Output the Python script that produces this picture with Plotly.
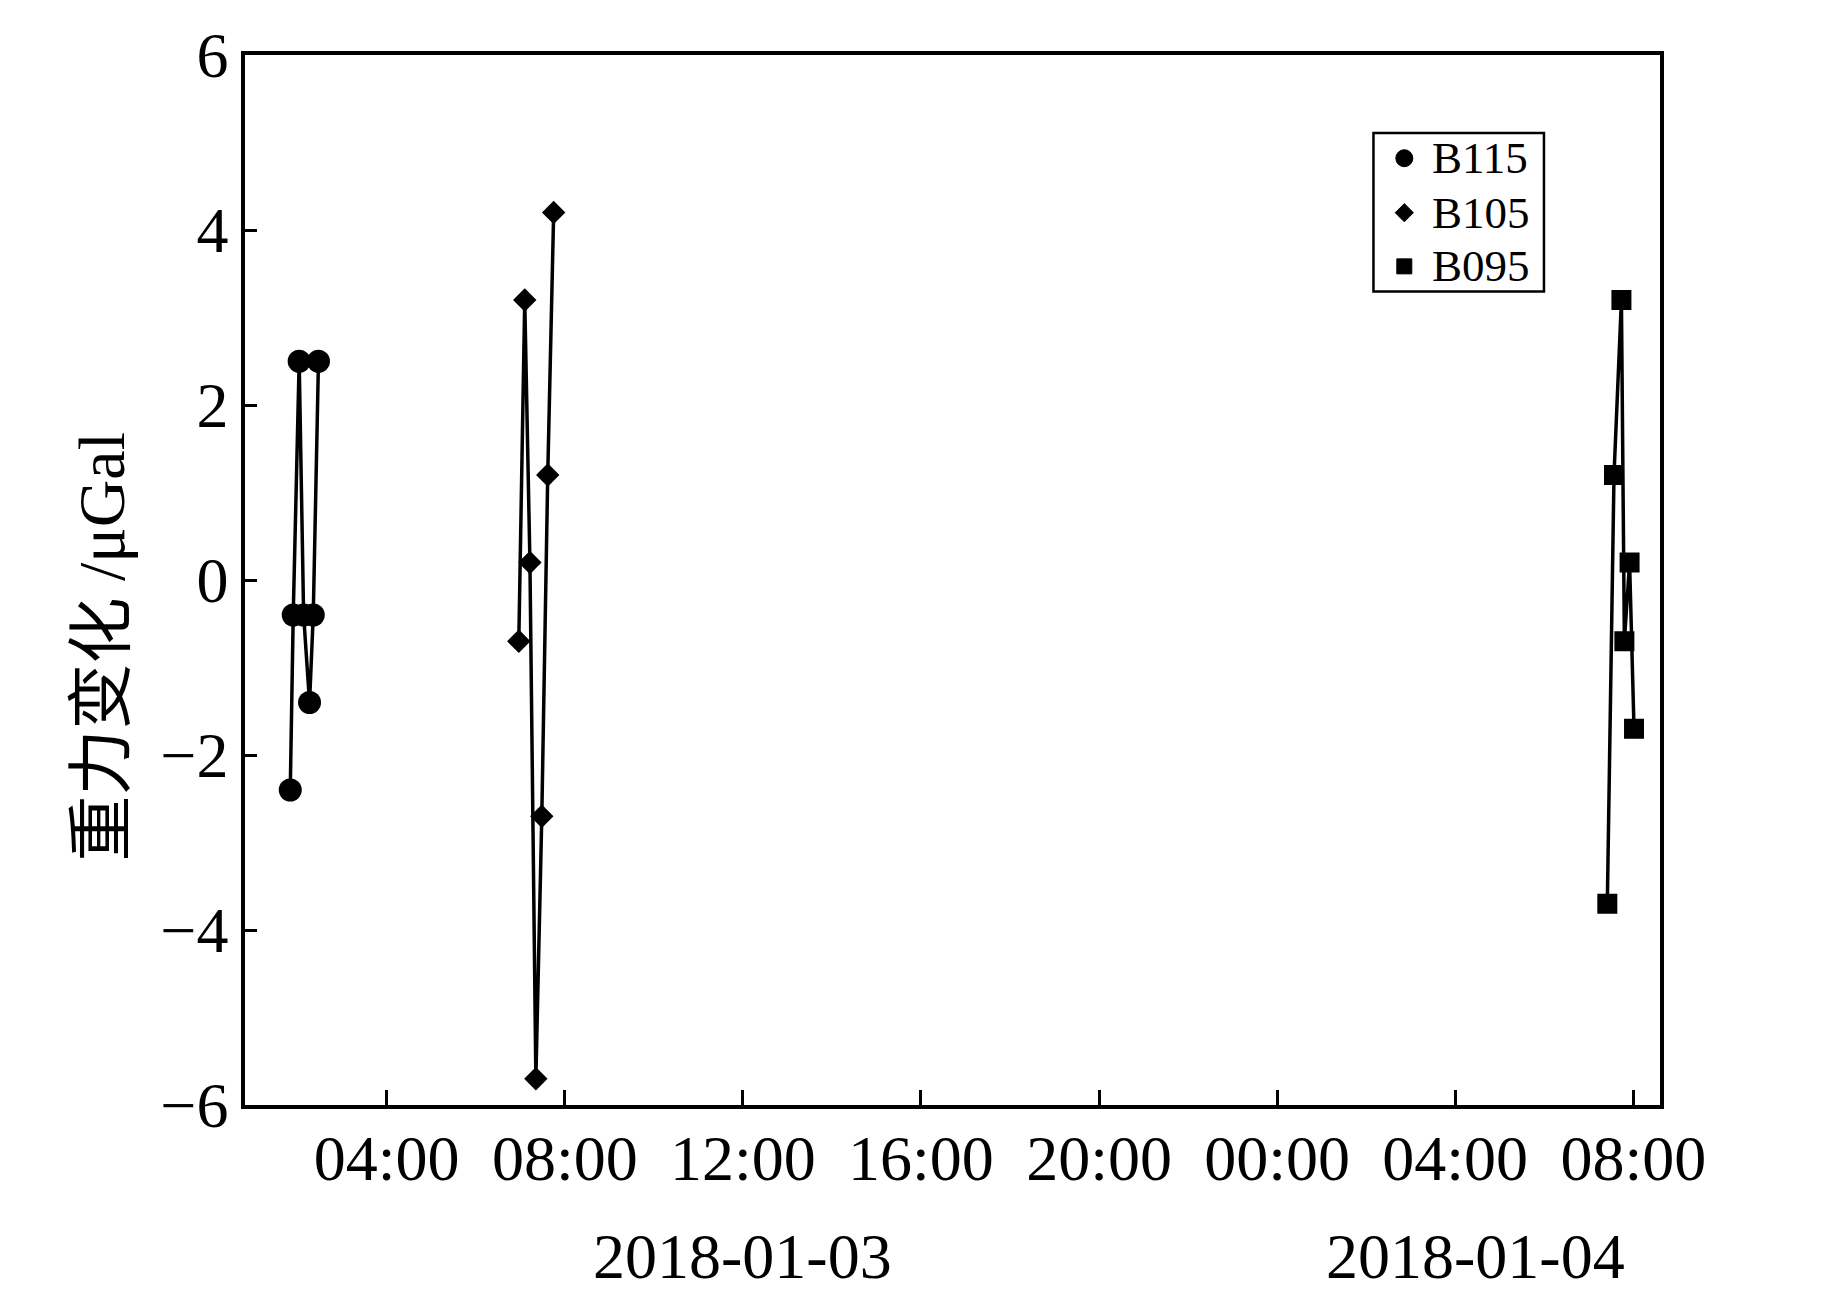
import plotly.graph_objects as go

# ---- data ----
b115_time = ["2018-01-03 01:50", "2018-01-03 01:54", "2018-01-03 02:02", "2018-01-03 02:08",
             "2018-01-03 02:16", "2018-01-03 02:21", "2018-01-03 02:28"]
b115_val = [-2.4, -0.4, 2.5, -0.4, -1.4, -0.4, 2.5]

b105_time = ["2018-01-03 06:58", "2018-01-03 07:06", "2018-01-03 07:13", "2018-01-03 07:21",
             "2018-01-03 07:29", "2018-01-03 07:37", "2018-01-03 07:45"]
b105_val = [-0.7, 3.2, 0.2, -5.7, -2.7, 1.2, 4.2]

b095_time = ["2018-01-04 07:25", "2018-01-04 07:34", "2018-01-04 07:44", "2018-01-04 07:48",
             "2018-01-04 07:55", "2018-01-04 08:01"]
b095_val = [-3.7, 1.2, 3.2, -0.7, 0.2, -1.7]

series_names = ["B115", "B105", "B095"]
series_symbols = ["circle", "diamond", "square"]
x_range = ["2018-01-03 00:49", "2018-01-04 08:36"]
y_range = [-6, 6]
y_ticks = [-6, -4, -2, 0, 2, 4, 6]
date_labels = ["2018-01-03", "2018-01-04"]
date_label_pos = ["2018-01-03 12:00", "2018-01-04 04:27"]
y_title = "重力变化 /μGal"

# legend layout (paper fractions)
LEG_BOX = (0.7975, 0.7748, 0.9180, 0.9256)
LEG_ROWS_Y = [0.9017, 0.8498, 0.7987]
LEG_MARK_X = 0.8193
LEG_TEXT_X = 0.8377

FONT = "Liberation Serif, Times New Roman, Noto Sans CJK SC, serif"
BLACK = "#000000"

fig = go.Figure()
sizes = [23, 18, 20]
for name, sym, sz, (xs, ys) in zip(series_names, series_symbols, sizes,
                                   [(b115_time, b115_val), (b105_time, b105_val), (b095_time, b095_val)]):
    fig.add_trace(go.Scatter(
        x=xs, y=ys, mode="lines+markers", name=name, showlegend=False,
        line=dict(color=BLACK, width=3.5),
        marker=dict(symbol=sym, size=sz, color=BLACK),
    ))

# legend drawn as a boxed key
fig.add_shape(type="rect", xref="paper", yref="paper",
              x0=LEG_BOX[0], y0=LEG_BOX[1], x1=LEG_BOX[2], y1=LEG_BOX[3],
              line=dict(color=BLACK, width=2.5), layer="below")
fig.add_trace(go.Scatter(
    x=[LEG_MARK_X] * 3, y=LEG_ROWS_Y, xaxis="x2", yaxis="y2", mode="markers",
    marker=dict(symbol=series_symbols, size=[17, 14, 15], color=BLACK, opacity=1,
                line=dict(width=1, color=BLACK)),
    showlegend=False, hoverinfo="skip", cliponaxis=False,
))
for name, yy in zip(series_names, LEG_ROWS_Y):
    fig.add_annotation(x=LEG_TEXT_X, y=yy, xref="paper", yref="paper", text=name, showarrow=False,
                       xanchor="left", yanchor="middle",
                       font=dict(family=FONT, size=45, color=BLACK))

for lab, pos in zip(date_labels, date_label_pos):
    fig.add_annotation(x=pos, y=-0.1445, xref="x", yref="paper", text=lab, showarrow=False,
                       font=dict(family=FONT, size=64, color=BLACK), xanchor="center", yanchor="middle")

fig.add_annotation(x=-0.1015, y=0.437, xref="paper", yref="paper", text=y_title, showarrow=False,
                   textangle=-90, font=dict(family=FONT, size=66, color=BLACK),
                   xanchor="center", yanchor="middle")

# page body has an 8px margin: figure is offset by (8, 8)
fig.update_layout(
    width=1827, height=1283,
    margin=dict(l=237, r=175, t=39, b=186),
    paper_bgcolor="white", plot_bgcolor="white",
    font=dict(family=FONT, size=64, color=BLACK),
    showlegend=False,
    xaxis2=dict(overlaying="x", range=[0, 1], visible=False, fixedrange=True),
    yaxis2=dict(overlaying="y", range=[0, 1], visible=False, fixedrange=True),
)
fig.update_layout(xaxis=dict(
    type="date", range=x_range, dtick=4 * 3600 * 1000, tick0="2018-01-03 00:00",
    tickformat="%H:%M", showgrid=False, zeroline=False,
    showline=True, linecolor=BLACK, linewidth=3.5, mirror=True,
    ticks="inside", ticklen=15, tickwidth=3, tickcolor=BLACK,
    tickfont=dict(family=FONT, size=64, color=BLACK),
    ticklabelstandoff=-6,
))
fig.update_layout(yaxis=dict(
    range=y_range, tickvals=y_ticks, showgrid=False, zeroline=False,
    showline=True, linecolor=BLACK, linewidth=3.5, mirror=True,
    ticks="inside", ticklen=12, tickwidth=3, tickcolor=BLACK,
    tickfont=dict(family=FONT, size=64, color=BLACK),
))

fig.write_html("out.html")
